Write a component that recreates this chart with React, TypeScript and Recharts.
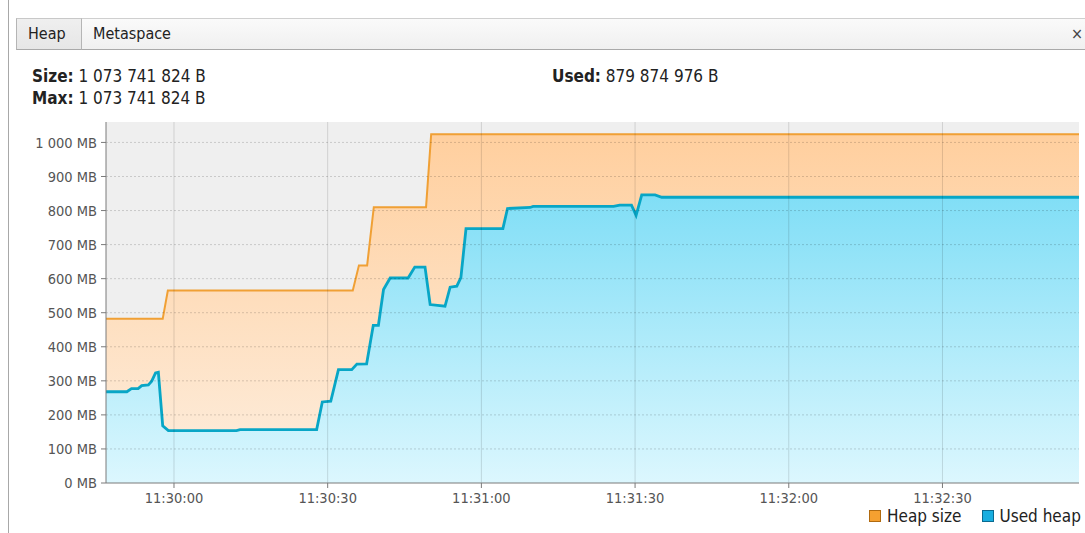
import React from 'react';
import { ComposedChart, Area, XAxis, YAxis, CartesianGrid, ReferenceLine } from 'recharts';

// time in seconds relative to 11:30:00
const BASE_SECONDS = 11 * 3600 + 30 * 60;

const heapTimes = [-13.3, -2.2, -1.2, 34.9, 36.1, 37.7, 39.0, 49.2, 50.2, 176.7];
const heapSizeMB = [482, 482, 565, 565, 639, 639, 810, 810, 1024, 1024];

const usedTimes = [
  -13.3, -9.2, -8.3, -7.0, -6.3, -5.0, -4.35, -3.6, -3.05, -2.2, -1.1, 12.2, 12.9, 27.85, 28.95,
  30.6, 32.1, 34.7, 35.7, 37.6, 38.9, 39.9, 40.9, 42.2, 45.7, 47.0, 49.0, 50.0, 52.9, 53.9,
  55.2, 56.0, 57.0, 64.2, 65.1, 69.5, 70.1, 85.8, 87.0, 89.3, 90.2, 91.3, 93.9, 95.2, 176.7,
];
const usedMB = [
  268, 268, 277, 277, 286, 288, 299, 323, 325, 168, 154, 154, 157, 157, 238,
  240, 333, 333, 349, 350, 463, 463, 568, 602, 602, 634, 634, 524, 519, 575,
  578, 603, 747, 747, 806, 809, 812, 812, 816, 816, 786, 846, 846, 839, 839,
];

const yTicks = [0, 100, 200, 300, 400, 500, 600, 700, 800, 900, 1000];
const xTickOffsets = [0, 30, 60, 90, 120, 150];

const sizeText = '1 073 741 824 B';
const maxText = '1 073 741 824 B';
const usedText = '879 874 976 B';

const heapData = heapTimes.map((t, i) => ({ t: BASE_SECONDS + t, v: heapSizeMB[i] }));
const usedData = usedTimes.map((t, i) => ({ t: BASE_SECONDS + t, v: usedMB[i] }));
const xTicks = xTickOffsets.map((o) => BASE_SECONDS + o);

const pad = (n: number) => (n < 10 ? '0' + n : '' + n);
const fmtTime = (s: number) => {
  const r = Math.round(s);
  const h = Math.floor(r / 3600);
  const m = Math.floor((r % 3600) / 60);
  const sec = r % 60;
  return `${h}:${pad(m)}:${pad(sec)}`;
};

const FONT = '"DejaVu Sans Condensed", "Liberation Sans", Arial, sans-serif';

export default function App() {
  return (
    <div
      style={{
        position: 'absolute',
        left: 0,
        top: 0,
        width: 1085,
        height: 533,
        overflow: 'hidden',
        background: '#ffffff',
        fontFamily: FONT,
        color: '#222',
      }}
    >
      {/* left panel border */}
      <div style={{ position: 'absolute', left: 8, top: 0, width: 1, height: 533, background: '#a8a8a8' }} />
      {/* tab bar */}
      <div
        style={{
          position: 'absolute',
          left: 16,
          top: 18,
          width: 1069,
          height: 32,
          background: 'linear-gradient(#fafafa, #f0f0f0)',
          borderTop: '1px solid #cfcfcf',
          borderBottom: '1px solid #a9a9a9',
          boxSizing: 'border-box',
        }}
      />
      <div
        style={{
          position: 'absolute',
          left: 16,
          top: 18,
          width: 66,
          height: 32,
          background: 'linear-gradient(#efefef, #e6e6e6)',
          borderLeft: '1px solid #b5b5b5',
          borderRight: '1px solid #b5b5b5',
          borderTop: '1px solid #c8c8c8',
          borderBottom: '1px solid #a9a9a9',
          boxSizing: 'border-box',
        }}
      />
      <div style={{ position: 'absolute', left: 28, top: 25, fontSize: 16, lineHeight: '18px' }}>Heap</div>
      <div style={{ position: 'absolute', left: 93, top: 25, fontSize: 16, lineHeight: '18px' }}>Metaspace</div>
      <div style={{ position: 'absolute', left: 1071, top: 24, fontSize: 16, lineHeight: '20px', color: '#444' }}>×</div>

      {/* header values */}
      <div style={{ position: 'absolute', left: 32, top: 66, fontSize: 17, lineHeight: '20px', whiteSpace: 'nowrap' }}>
        <b>Size:</b> {sizeText}
      </div>
      <div style={{ position: 'absolute', left: 32, top: 88, fontSize: 17, lineHeight: '20px', whiteSpace: 'nowrap' }}>
        <b>Max:</b> {maxText}
      </div>
      <div style={{ position: 'absolute', left: 552, top: 66, fontSize: 17, lineHeight: '20px', whiteSpace: 'nowrap' }}>
        <b>Used:</b> {usedText}
      </div>

      <div style={{ position: 'absolute', left: 0, top: 0 }}>
        <ComposedChart width={1085} height={533} margin={{ top: 122, right: 6, bottom: 20, left: 0 }}>
          <defs>
            <linearGradient id="heapFill" x1="0" y1="0" x2="0" y2="1">
              <stop offset="0%" stopColor="#ffcf9e" />
              <stop offset="100%" stopColor="#fdeedf" />
            </linearGradient>
            <linearGradient id="usedFill" x1="0" y1="0" x2="0" y2="1">
              <stop offset="0%" stopColor="#80def6" />
              <stop offset="100%" stopColor="#dcf7fe" />
            </linearGradient>
          </defs>
          <CartesianGrid fill="#efefef" horizontal={false} vertical={false} />
          <XAxis
            dataKey="t"
            type="number"
            domain={[BASE_SECONDS - 13.27, BASE_SECONDS + 176.65]}
            allowDataOverflow
            ticks={xTicks}
            tickFormatter={fmtTime}
            height={30}
            tickSize={5}
            tickMargin={5}
            axisLine={{ stroke: '#7a7a7a' }}
            tickLine={{ stroke: '#7a7a7a' }}
            tick={{ fill: '#555', fontSize: 14.5, fontFamily: FONT }}
          />
          <YAxis
            type="number"
            domain={[0, 1060]}
            ticks={yTicks}
            allowDataOverflow
            tickFormatter={(v: number) => (v === 1000 ? '1 000 MB' : `${v} MB`)}
            width={106}
            tickSize={5}
            tickMargin={4}
            axisLine={{ stroke: '#7a7a7a' }}
            tickLine={{ stroke: '#7a7a7a' }}
            tick={{ fill: '#555', fontSize: 14.5, fontFamily: FONT }}
          />
          <Area
            data={heapData}
            dataKey="v"
            name="Heap size"
            type="linear"
            stroke="#f0a035"
            strokeWidth={2}
            fill="url(#heapFill)"
            fillOpacity={1}
            dot={false}
            activeDot={false}
            isAnimationActive={false}
          />
          <Area
            data={usedData}
            dataKey="v"
            name="Used heap"
            type="linear"
            stroke="#08a6c6"
            strokeWidth={2.8}
            fill="url(#usedFill)"
            fillOpacity={1}
            dot={false}
            activeDot={false}
            isAnimationActive={false}
          />
          {yTicks.slice(1).map((v) => (
            <ReferenceLine key={'h' + v} y={v} stroke="#000" strokeOpacity={0.16} strokeDasharray="2 2" />
          ))}
          {xTicks.map((v) => (
            <ReferenceLine key={'v' + v} x={v} stroke="#000" strokeOpacity={0.13} />
          ))}
        </ComposedChart>
      </div>

      {/* legend */}
      <div
        style={{
          position: 'absolute',
          left: 869,
          top: 507,
          display: 'flex',
          alignItems: 'center',
          fontSize: 17,
          lineHeight: '18px',
          whiteSpace: 'nowrap',
          color: '#222',
        }}
      >
        <span style={{ display: 'inline-block', width: 12, height: 12, background: '#f5a030', border: '1px solid #b06a10', boxSizing: 'border-box', marginRight: 6 }} />
        <span style={{ marginRight: 20 }}>Heap size</span>
        <span style={{ display: 'inline-block', width: 12, height: 12, background: '#18aee0', border: '1px solid #0a6a90', boxSizing: 'border-box', marginRight: 6 }} />
        <span>Used heap</span>
      </div>
    </div>
  );
}
